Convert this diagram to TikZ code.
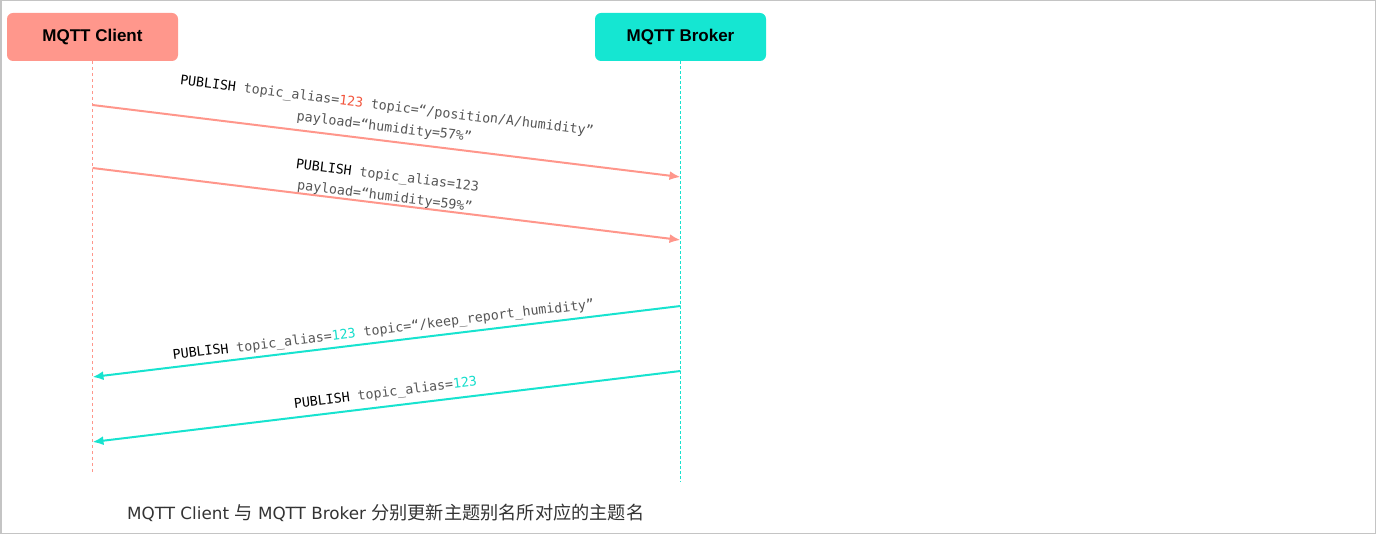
\documentclass[tikz,border=0pt]{standalone}
\usepackage{fontspec}
\usetikzlibrary{arrows.meta}
\newfontfamily\boxfont{Liberation Sans}
\newfontfamily\monof{DejaVu Sans Mono}
\newfontfamily\capfont{DejaVu Sans}
\newfontfamily\cjk{Noto Sans CJK SC}
\definecolor{clientfill}{HTML}{FF978C}
\definecolor{brokerfill}{HTML}{15E6D2}
\definecolor{clientline}{HTML}{FF968B}
\definecolor{brokerline}{HTML}{17E3CF}
\definecolor{labgray}{HTML}{555555}
\definecolor{aliasred}{HTML}{F2553D}
\definecolor{aliascyan}{HTML}{14DDCB}
\definecolor{capgray}{HTML}{333333}
\definecolor{framegray}{HTML}{C4C4C4}
\tikzset{
  actor/.style={rounded corners=6pt, minimum width=171pt, minimum height=48pt,
    inner sep=0pt, font=\boxfont\bfseries\fontsize{17}{20}\selectfont, text=black},
  clife/.style={draw=clientline, line width=1.5pt, dash pattern=on 3pt off 3pt},
  blife/.style={draw=brokerline, line width=1.6pt, dash pattern=on 2.5pt off 2.5pt},
  reqarrow/.style={draw=clientline, line width=2pt, -{Latex[length=11pt,width=9pt]}},
  resarrow/.style={draw=brokerline, line width=2pt, -{Latex[length=11pt,width=9pt]}},
  msg/.style={anchor=base, inner sep=0pt, text=labgray,
    font=\monof\fontsize{13.3}{21}\selectfont},
  msgtwo/.style={msg, anchor=north, align=center},
}
\newcommand{\pub}{\textcolor{black}{PUBLISH}}
\begin{document}
\begin{tikzpicture}[x=1pt,y=-1pt]
\useasboundingbox (0,0) rectangle (1376,534);
\draw[framegray, line width=1.5pt] (0.75,0.75) rectangle (1375.25,533.25);

% actors
\node[actor, fill=clientfill] (client) at (92.5,37) {MQTT Client};
\node[actor, fill=brokerfill] (broker) at (680.5,37) {MQTT Broker};

% lifelines
\coordinate (cend) at (92.5,472);
\coordinate (bend) at (680.5,482);
\draw[clife] (client.south) -- (cend);
\draw[blife] (broker.south) -- (bend);

% message end points
\coordinate (c1) at (92.5,105);  \coordinate (b1) at (680.5,177);
\coordinate (c2) at (92.5,168);  \coordinate (b2) at (680.5,240);
\coordinate (b3) at (680.5,306); \coordinate (c3) at (92.5,377);
\coordinate (b4) at (680.5,371); \coordinate (c4) at (92.5,442);

\draw[reqarrow] (c1) -- (b1);
\draw[reqarrow] (c2) -- (b2);
\draw[resarrow] (b3) -- (c3);
\draw[resarrow] (b4) -- (c4);

% labels
\node[msgtwo, rotate=-7] (l1) at (387.7,100)
  {\pub{} topic\_alias=\textcolor{aliasred}{123} topic=“/position/A/humidity”\\
   payload=“humidity=57\%”};
\node[msgtwo, rotate=-7] (l2) at (388.2,169.5)
  {\pub{} topic\_alias=123\\ payload=“humidity=59\%”};
\node[msg, rotate=7] (l3) at (384,334)
  {\pub{} topic\_alias=\textcolor{aliascyan}{123} topic=“/keep\_report\_humidity”};
\node[msg, rotate=7] (l4) at (386,397) {\pub{} topic\_alias=\textcolor{aliascyan}{123}};

% caption
\node[anchor=base west, inner sep=0pt, text=capgray] (cap) at (127,519)
  {\capfont\fontsize{16.8}{20}\selectfont MQTT Client {\cjk\fontsize{18.2}{20}\selectfont 与} MQTT Broker {\cjk\fontsize{18.2}{20}\selectfont 分别更新主题别名所对应的主题名}};
\end{tikzpicture}
\end{document}
